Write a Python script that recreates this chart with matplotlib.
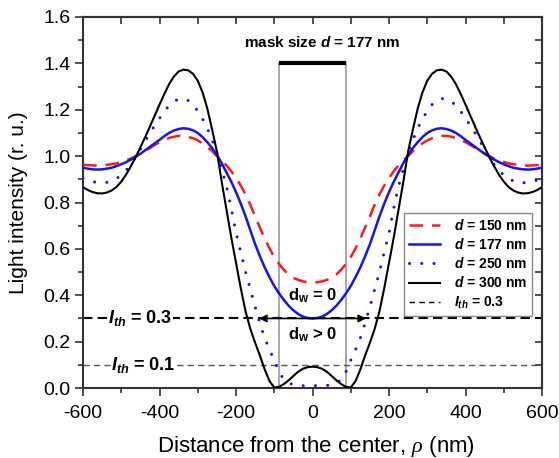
import numpy as np
import matplotlib
matplotlib.use("Agg")
import matplotlib.pyplot as plt
from matplotlib.lines import Line2D

plt.rcParams["font.family"] = ["Liberation Sans", "DejaVu Sans"]
plt.rcParams["axes.unicode_minus"] = False
plt.rcParams["mathtext.fontset"] = "custom"
plt.rcParams["mathtext.it"] = "Liberation Sans:bold:italic"
plt.rcParams["mathtext.rm"] = "Liberation Sans:bold"
plt.rcParams["mathtext.bf"] = "Liberation Sans:bold"
plt.rcParams["mathtext.sf"] = "Liberation Serif:italic"

# Radial intensity profiles (symmetric in rho), sampled every 12.5 nm from 0 to 600 nm
rho_half = [0, 12.5, 25, 37.5, 50, 62.5, 75, 87.5, 100, 112.5, 125, 137.5, 150,
            162.5, 175, 187.5, 200, 212.5, 225, 237.5, 250, 262.5, 275, 287.5, 300,
            312.5, 325, 337.5, 350, 362.5, 375, 387.5, 400, 412.5, 425, 437.5, 450,
            462.5, 475, 487.5, 500, 512.5, 525, 537.5, 550, 562.5, 575, 587.5, 600]

I_d150 = [0.455, 0.456, 0.46, 0.466, 0.475, 0.49, 0.51, 0.535, 0.565, 0.602, 0.645,
          0.692, 0.74, 0.79, 0.835, 0.873, 0.905, 0.935, 0.96, 0.982, 1.0, 1.021,
          1.04, 1.055, 1.068, 1.077, 1.083, 1.087, 1.087, 1.084, 1.078, 1.07, 1.06,
          1.048, 1.035, 1.023, 1.012, 1.0, 0.99, 0.982, 0.975, 0.969, 0.965, 0.962,
          0.96, 0.959, 0.96, 0.961, 0.963]
I_d177 = [0.300, 0.302, 0.308, 0.319, 0.335, 0.355, 0.38, 0.408, 0.44, 0.478, 0.52,
          0.568, 0.62, 0.68, 0.74, 0.795, 0.845, 0.89, 0.93, 0.97, 1.005, 1.035,
          1.06, 1.082, 1.10, 1.111, 1.118, 1.12, 1.117, 1.11, 1.10, 1.086, 1.07,
          1.055, 1.04, 1.025, 1.01, 0.997, 0.985, 0.974, 0.965, 0.957, 0.95, 0.946,
          0.943, 0.942, 0.943, 0.946, 0.95]
I_d250 = [0.010, 0.010, 0.010, 0.011, 0.014, 0.022, 0.036, 0.07, 0.12, 0.165, 0.215,
          0.28, 0.35, 0.425, 0.50, 0.585, 0.67, 0.775, 0.87, 0.945, 1.015, 1.07,
          1.12, 1.16, 1.195, 1.222, 1.24, 1.248, 1.246, 1.236, 1.218, 1.193, 1.163,
          1.132, 1.10, 1.065, 1.03, 0.995, 0.963, 0.938, 0.918, 0.903, 0.893, 0.887,
          0.885, 0.886, 0.89, 0.897, 0.905]
I_d300 = [0.092, 0.090, 0.083, 0.070, 0.052, 0.033, 0.017, 0.005, 0.002, 0.03, 0.08,
          0.14, 0.195, 0.255, 0.33, 0.43, 0.54, 0.65, 0.77, 0.89, 1.02, 1.115,
          1.205, 1.275, 1.325, 1.355, 1.37, 1.373, 1.365, 1.343, 1.31, 1.268, 1.222,
          1.175, 1.128, 1.082, 1.038, 0.995, 0.956, 0.92, 0.89, 0.867, 0.852, 0.843,
          0.839, 0.840, 0.845, 0.854, 0.866]

series_labels = ["$d$ = 150 nm", "$d$ = 177 nm", "$d$ = 250 nm", "$d$ = 300 nm"]

mask_size = 177.0   # nm
I_th_high = 0.3
I_th_low = 0.1
arrow_half = 140.0  # nm, where the d = 250 nm curve reaches I_th = 0.3


def full_profile(values):
    v = np.asarray(values, dtype=float)
    return np.concatenate([v[:0:-1], v])


rho = np.concatenate([-np.asarray(rho_half[:0:-1], float), np.asarray(rho_half, float)])

fig = plt.figure(figsize=(5.59, 4.58), dpi=100)
ax = fig.add_axes([0.1485, 0.1528, 0.8211, 0.8101])

# threshold lines
ax.axhline(I_th_high, color="black", lw=1.5, dashes=(4.5, 2.5), zorder=2)
ax.axhline(I_th_low, color="#555555", lw=1.0, dashes=(4.5, 3), zorder=2)

# mask edges and mask-size bar
half = mask_size / 2
ax.plot([-half, -half], [0, 1.4], color="#999999", lw=1.2, zorder=1)
ax.plot([half, half], [0, 1.4], color="#999999", lw=1.2, zorder=1)
ax.plot([-half, half], [1.4, 1.4], color="black", lw=3, solid_capstyle="butt", zorder=3)
ax.text(25, 1.49, "mask size $d$ = 177 nm", ha="center", va="center",
        fontsize=11, fontweight="bold")

# intensity profiles
l1, = ax.plot(rho, full_profile(I_d150), color="#ff1a1a", lw=1.8, dashes=(5.5, 3.5),
              label=series_labels[0], zorder=4)
l2, = ax.plot(rho, full_profile(I_d177), color="#1414f0", lw=1.8,
              label=series_labels[1], zorder=4)
l3, = ax.plot(rho, full_profile(I_d250), color="#1414f0", lw=2.2, dashes=(0.01, 4.0),
              dash_capstyle="round", label=series_labels[2], zorder=4)
l4, = ax.plot(rho, full_profile(I_d300), color="black", lw=1.5,
              label=series_labels[3], zorder=4)

# double arrow at I_th = 0.3
ax.annotate("", xy=(-arrow_half, I_th_high), xytext=(arrow_half, I_th_high),
            arrowprops=dict(arrowstyle="<|-|>", color="black", lw=1.2,
                            mutation_scale=11, shrinkA=0, shrinkB=0), zorder=5)
ax.text(0, 0.40, "d$_\\mathrm{w}$ = 0", ha="center", va="center",
        fontsize=12, fontweight="bold")
ax.text(0, 0.23, "d$_\\mathrm{w}$ > 0", ha="center", va="center",
        fontsize=12, fontweight="bold")

# threshold labels
ax.text(-450, I_th_high, "$I_{th}$ = 0.3", ha="center", va="center", fontsize=13,
        fontweight="bold", zorder=3,
        bbox=dict(facecolor="white", edgecolor="none", pad=0.5))
ax.text(-442, I_th_low, "$I_{th}$ = 0.1", ha="center", va="center", fontsize=13,
        fontweight="bold", zorder=3,
        bbox=dict(facecolor="white", edgecolor="none", pad=0.5))

ax.set_xlim(-600, 600)
ax.set_ylim(0.0, 1.6)
ax.set_xticks(np.arange(-600, 601, 200))
ax.set_xticks(np.arange(-500, 601, 200), minor=True)
ax.set_yticks(np.arange(0, 1.61, 0.2))
ax.set_yticks(np.arange(0.1, 1.6, 0.2), minor=True)
ax.yaxis.set_major_formatter(matplotlib.ticker.FormatStrFormatter("%.1f"))

ax.tick_params(which="both", direction="out", top=False, right=False,
               labelsize=14, width=1.2, color="#333333")
ax.tick_params(axis="x", which="major", length=6, pad=6)
ax.tick_params(axis="x", which="minor", length=3.5)
ax.tick_params(axis="y", which="major", length=6, pad=3)
ax.tick_params(axis="y", which="minor", length=3.5)

# mirrored inward ticks on top and right
axt = ax.secondary_xaxis("top")
axt.set_xticks(np.arange(-600, 601, 100))
axt.tick_params(direction="in", length=5, width=1.2, labeltop=False, color="#333333")
axr = ax.secondary_yaxis("right")
axr.set_yticks(np.arange(0, 1.61, 0.1))
axr.tick_params(direction="in", length=5, width=1.2, labelright=False, color="#333333")
for s in list(ax.spines.values()) + [axt.spines["top"], axr.spines["right"]]:
    s.set_linewidth(1.5)
    s.set_color("#333333")

ax.set_xlabel("Distance from the center, $\\mathsf{\\rho}$ (nm)", fontsize=16)
ax.set_ylabel("Light intensity (r. u.)", fontsize=15)
ax.xaxis.set_label_coords(0.508, -0.124)
ax.yaxis.set_label_coords(-0.12, 0.5)

handles = [l1, l2, l3, l4,
           Line2D([], [], color="black", lw=1.0, dashes=(4, 3))]
labels = series_labels + ["$I_{th}$ = 0.3"]
leg = ax.legend(handles, labels, loc="upper right", bbox_to_anchor=(0.978, 0.4717),
                prop=dict(weight="bold", size=10), frameon=True, fancybox=False,
                framealpha=1, edgecolor="#888888", borderpad=0.35,
                labelspacing=0.3, handlelength=2.2, handletextpad=1.0,
                borderaxespad=0)
leg.get_frame().set_linewidth(1.0)

fig.savefig("out.png", dpi=100)
